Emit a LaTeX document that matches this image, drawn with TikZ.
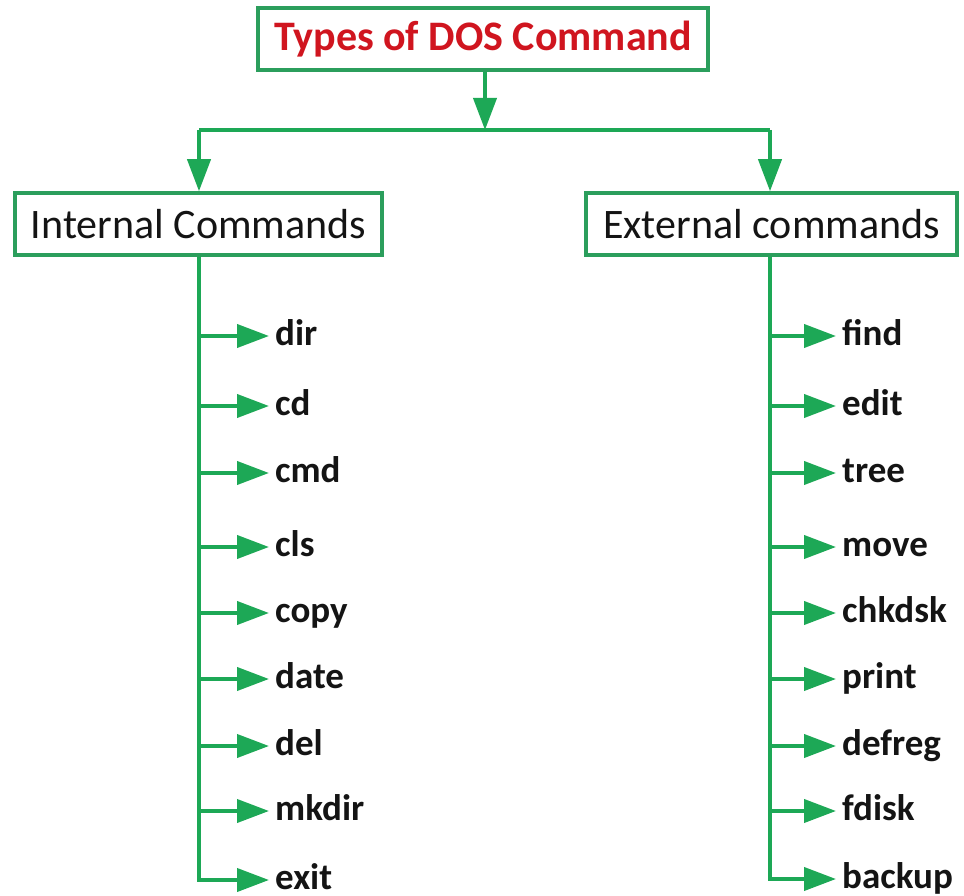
\documentclass[tikz,border=0pt]{standalone}
\usepackage{fontspec}
\setmainfont{Carlito}
\usetikzlibrary{arrows.meta}
\definecolor{linegreen}{HTML}{1DA856}
\definecolor{boxgreen}{HTML}{2B9E5C}
\definecolor{titlered}{HTML}{D0151F}
\definecolor{inkblack}{HTML}{141414}
\begin{document}
\begin{tikzpicture}[x=1pt,y=-1pt,
  box/.style={draw=boxgreen,line width=3.5pt,fill=white,inner sep=0pt,minimum height=62pt},
  item/.style={anchor=west,inner sep=0pt,text height=22pt,text depth=4pt,
    font=\fontsize{37}{42}\selectfont\bfseries,text=inkblack},
  link/.style={draw=linegreen,line width=4pt},
  arrowlink/.style={link,-{Triangle[length=32pt,width=23pt]}},
  branch/.style={arrowlink,shorten >=6pt}]
\useasboundingbox[fill=white] (0,0) rectangle (964,896);

% top-level boxes
\node[box,minimum width=450pt,font=\fontsize{42}{48}\selectfont\bfseries,text=titlered]
  (title) at (483,39) {Types of DOS Command};
\node[box,minimum width=367pt,font=\fontsize{42}{48}\selectfont,text=inkblack]
  (internal) at (198.5,224) {Internal Commands};
\node[box,minimum width=371pt,font=\fontsize{42}{48}\selectfont,text=inkblack]
  (external) at (771.5,224) {External commands};

% split connector
\coordinate (split) at (485,130);
\coordinate (splitL) at (199,130);
\coordinate (splitR) at (770,130);
\draw[arrowlink] (title.south -| split) -- (split);
\draw[link] (splitL) -- (splitR);
\draw[arrowlink] (splitL) -- (splitL |- internal.north);
\draw[arrowlink] (splitR) -- (splitR |- external.north);

% internal commands
\foreach \name/\y in {dir/336,cd/406,cmd/473,cls/547,copy/613,date/679,del/746,mkdir/811,exit/880}{
  \node[item] (int-\name) at (275,\y) {\name};
  \draw[branch] (internal.south) |- (int-\name.west);
}

% external commands
\foreach \name/\y in {find/336,edit/406,tree/473,move/547,chkdsk/613,print/679,defreg/746,fdisk/811,backup/879}{
  \node[item] (ext-\name) at (842,\y) {\name};
  \draw[branch] (external.south -| splitR) |- (ext-\name.west);
}
\end{tikzpicture}
\end{document}
